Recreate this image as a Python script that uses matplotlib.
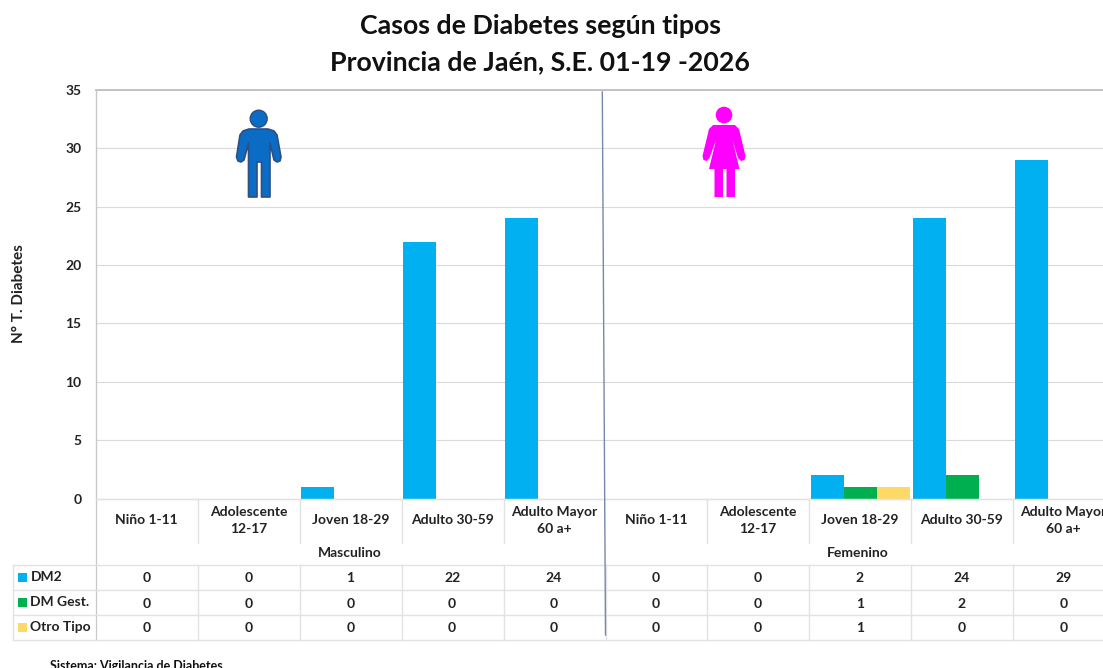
import matplotlib
matplotlib.use("Agg")
import matplotlib.pyplot as plt
import numpy as np
from matplotlib.patches import Polygon, Circle

plt.rcParams['font.family'] = ['Lato', 'DejaVu Sans']

groups = ["Masculino", "Femenino"]
categories = ["Niño 1-11", "Adolescente\n12-17", "Joven 18-29", "Adulto 30-59", "Adulto Mayor\n60 a+"]
series_names = ["DM2", "DM Gest.", "Otro Tipo"]
dm2 = [0, 0, 1, 22, 24, 0, 0, 2, 24, 29]
dm_gest = [0, 0, 0, 0, 0, 0, 0, 1, 2, 0]
otro = [0, 0, 0, 0, 0, 0, 0, 1, 0, 0]
colors = ["#00B0F0", "#00B050", "#FFD966"]
yticks = [0, 5, 10, 15, 20, 25, 30, 35]

W, H = 1103, 668
FS = 10
fig = plt.figure(figsize=(W / 100, H / 100), dpi=100, facecolor="white")

# pixel-coordinate overlay
ov = fig.add_axes([0, 0, 1, 1], zorder=3)
ov.set_xlim(0, W); ov.set_ylim(H, 0); ov.axis("off"); ov.patch.set_alpha(0)

L, R, T, B = 96, W, 90, 498.5
CW = 101.9
ax = fig.add_axes([L / W, 1 - B / H, (R - L) / W, (B - T) / H], zorder=2)
ax.set_xlim(0, (R - L) / CW)
ax.set_ylim(0, 35)
ax.set_axisbelow(True)
ax.yaxis.grid(True, color="#DADADA", lw=0.8)
ax.set_yticks(yticks)
ax.set_xticks([])
ax.tick_params(axis="y", length=0, pad=10.5, labelsize=FS, labelcolor="#222222")
for lab in ax.get_yticklabels():
    lab.set_fontweight("bold")
ax.spines["right"].set_visible(False)
ax.spines["top"].set_color("#BFBFBF"); ax.spines["top"].set_linewidth(1.3)
ax.spines["left"].set_color("#BFBFBF")
ax.spines["bottom"].set_color("#D9D9D9")
ax.set_ylabel("N° T. Diabetes", fontsize=11, fontweight="bold", color="#222222")
ax.yaxis.set_label_coords((26 - L) / (R - L), (B - 294) / (B - T))

x = np.arange(len(dm2)) + 0.5
bw = 0.323
for i, (vals, c) in enumerate(zip([dm2, dm_gest, otro], colors)):
    ax.bar(x + (i - 1) * bw, vals, width=bw, color=c, linewidth=0)

fig.text(540 / W, 1 - 25.5 / H, "Casos de Diabetes según tipos", ha="center", va="center",
         fontsize=19.3, fontweight="bold", color="#111111")
fig.text(540 / W, 1 - 62 / H, "Provincia de Jaén, S.E. 01-19 -2026", ha="center", va="center",
         fontsize=19.3, fontweight="bold", color="#111111")

# table
lc = "#E2E2E2"
def px(i):
    return L + i * CW
rows_y = [565, 590, 615, 640]
ov.plot([L, L], [T, 640], color="#C8C8C8", lw=0.9)
for i in range(1, 11):
    xx = px(i)
    if i != 5:
        ov.plot([xx, xx], [B, 543], color=lc, lw=1)
    ov.plot([xx, xx], [565, 640], color=lc, lw=1)
for y in rows_y:
    ov.plot([13, W], [y, y], color=lc, lw=1)
ov.plot([13, 13], [565, 640], color=lc, lw=1)
ov.plot([L, W], [B, B], color=lc, lw=1)

# divider
ov.plot([602.3, 605.5], [92, 635], color="#7688AB", lw=1)

tc = "#222222"
for g in range(2):
    for i, cat in enumerate(categories):
        k = g * 5 + i
        ov.text(px(k + 0.5) - 0.5, 520.5, cat, ha="center", va="center", fontsize=FS,
                fontweight="bold", color=tc, linespacing=1.45)
ov.text(px(2.5) - 1, 553, groups[0], ha="center", va="center", fontsize=FS, fontweight="bold", color=tc)
ov.text(px(7.5) - 2, 553, groups[1], ha="center", va="center", fontsize=FS, fontweight="bold", color=tc)

for r, (name, vals, c) in enumerate(zip(series_names, [dm2, dm_gest, otro], colors)):
    yc = (rows_y[r] + rows_y[r + 1]) / 2
    ov.add_patch(Polygon([(18, yc - 5), (27, yc - 5), (27, yc + 4), (18, yc + 4)], color=c, lw=0))
    ov.text(30.5, yc - 0.3, name, ha="left", va="center", fontsize=FS, fontweight="bold", color=tc)
    for k, v in enumerate(vals):
        ov.text(px(k + 0.5) - 0.5, yc + 1, str(v), ha="center", va="center", fontsize=FS,
                fontweight="bold", color=tc)

fig.text(50 / W, 1 - 665.5 / H, "Sistema: Vigilancia de Diabetes", ha="left", va="center",
         fontsize=9, fontweight="bold", color="#111111")

# man icon
blue, edge = "#0A6CC4", "#2F4F80"
ov.add_patch(Circle((258.7, 118.7), 8.5, fc=blue, ec=edge, lw=1))
man = [(249, 129), (268, 129), (274, 131), (277, 135), (281, 157), (280, 161), (277, 162), (274, 160), (270, 143),
       (270, 197), (261.5, 197), (261.5, 162), (257, 162), (257, 197), (248.5, 197), (248.5, 143),
       (244, 160), (241, 162), (238, 161), (236.5, 157), (240, 135), (243, 131)]
ov.add_patch(Polygon(man, closed=True, fc=blue, ec=edge, lw=1.2, joinstyle="round"))

# woman icon
pink = "#FF00FF"
ov.add_patch(Circle((724, 115), 8.3, fc=pink, ec="none"))
woman = [(713, 125), (735, 125), (739, 129), (745.5, 156), (744.5, 160), (741, 161), (738, 158), (732.5, 140),
         (739.5, 169), (735, 169), (735, 197), (726.5, 197), (726.5, 169), (723, 169), (723, 197),
         (714.5, 197), (714.5, 169), (709, 169), (716, 140), (709.5, 158), (706.5, 161), (703.5, 160), (702.5, 156), (709, 129)]
ov.add_patch(Polygon(woman, closed=True, fc=pink, ec="none"))

fig.savefig("out.png", dpi=100)
